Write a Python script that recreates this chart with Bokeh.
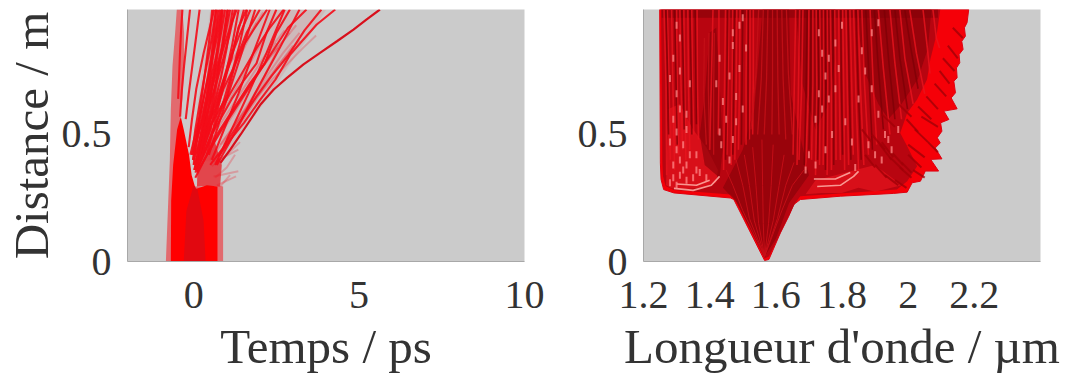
from bokeh.plotting import figure
from bokeh.layouts import row
from bokeh.embed import file_html
from bokeh.resources import INLINE
from bokeh.models import FixedTicker
import math

# ---------- tick labels ----------
t_ticks = [0, 5, 10]
t_labels = ["0", "5", "10"]
lam_ticks = [1.2, 1.4, 1.6, 1.8, 2.0, 2.2]
lam_labels = ["1.2", "1.4", "1.6", "1.8", "2", "2.2"]
z_ticks = [0, 0.5]
z_labels = ["0", "0.5"]

# ---------- left panel: temporal trace ----------
halo_t = [-0.84, -0.78, -0.72, -0.69, -0.64, -0.56, -0.51, -0.34, -0.29, -0.29, -0.34, -0.41, -0.30, -0.20, 0.40, 0.72, 0.72, 0.89, 0.89]
halo_z = [0.0, 0.20, 0.40, 0.60, 0.77, 0.90, 0.992, 0.992, 0.90, 0.77, 0.64, 0.57, 0.42, 0.30, 0.29, 0.295, 0.30, 0.295, 0.0]
core_t = [-0.69, -0.68, -0.62, -0.50, -0.39, -0.30, -0.14, -0.06, 0.06, 0.40, 0.72, 0.72]
core_z = [0.0, 0.24, 0.38, 0.52, 0.57, 0.52, 0.42, 0.34, 0.285, 0.30, 0.295, 0.0]
dark_t = [-0.30, -0.22, 0.0, 0.12, 0.30, 0.36]
dark_z = [0.0, 0.20, 0.30, 0.28, 0.16, 0.0]
fanfill_t = [0.10, 0.80, 0.85, 0.62, 0.50, 0.30, 0.12]
fanfill_z = [0.295, 0.295, 0.38, 0.48, 0.56, 0.60, 0.40]
wash_t = [0.0, 0.85, 2.1, 3.4, 4.0, 0.5, 0.12]
wash_z = [0.40, 0.39, 0.62, 0.87, 0.99, 0.99, 0.62]
bundle_t = [0.15, 0.35, 0.55, 1.15, 0.95, 0.75, 0.50]
bundle_z = [0.46, 0.62, 0.99, 0.99, 0.82, 0.68, 0.50]

outer_t = [0.81, 1.11, 1.42, 1.72, 2.02, 2.42, 2.82, 3.32, 3.83, 4.33, 4.83, 5.23, 5.63]
outer_z = [0.388, 0.441, 0.50, 0.559, 0.618, 0.677, 0.723, 0.776, 0.822, 0.867, 0.913, 0.953, 0.992]

strong_t = [
    [0.76, 1.11, 1.52, 2.02, 2.47, 2.92, 3.27, 3.72, 4.28],
    [0.50, 0.85, 1.20, 1.55, 1.90, 2.35, 2.85, 3.35, 3.86],
    [0.10, 0.45, 0.80, 1.15, 1.50, 1.90, 2.30, 2.85, 3.41],
    [0.05, 0.40, 0.70, 1.00, 1.30, 1.70, 2.15, 2.50, 2.91],
    [0.05, 0.30, 0.55, 0.85, 1.15, 1.50, 1.90, 2.20, 2.50],
    [0.00, 0.25, 0.45, 0.70, 1.00, 1.30, 1.60, 2.00],
    [0.00, 0.20, 0.40, 0.65, 0.90, 1.15, 1.35, 1.60],
    [-0.05, 0.12, 0.30, 0.50, 0.70, 0.90, 1.10, 1.30],
    [-0.10, 0.05, 0.20, 0.38, 0.55, 0.70, 0.85],
    [0.00, 0.06, 0.14, 0.25, 0.35, 0.46, 0.56],
    [-0.05, 0.05, 0.18, 0.30, 0.42, 0.55, 0.68],
    [-0.02, 0.10, 0.24, 0.40, 0.52, 0.66, 0.80],
    [-0.02, 0.13, 0.30, 0.50, 0.65, 0.80, 0.95],
    [0.00, 0.15, 0.34, 0.55, 0.75, 0.92, 1.10],
    [0.05, 0.22, 0.44, 0.70, 0.90, 1.08, 1.25],
    [-0.24, -0.15, -0.04, 0.06, 0.18],
    [-0.41, -0.36, -0.29, -0.20, -0.11],
    [-0.47, -0.44, -0.41, -0.38, -0.34],
    [-0.15, -0.05, 0.08, 0.30, 0.62],
    [0.02, 0.20, 0.42, 0.62, 0.84, 1.05, 1.38, 1.72],
    [0.06, 0.24, 0.50, 0.90, 1.20, 1.50, 1.85, 2.22],
    [0.10, 0.32, 0.55, 0.85, 1.10, 1.50, 1.90, 2.30, 2.72],
    [0.02, 0.18, 0.36, 0.48, 0.60, 0.74],
    [0.04, 0.20, 0.42, 0.58, 0.74, 0.88],
    [0.06, 0.25, 0.48, 0.66, 0.84, 1.02],
    [0.20, 0.40, 0.62, 0.82, 1.00, 1.18],
    [0.25, 0.50, 0.72, 0.96, 1.16, 1.36],
    [0.30, 0.60, 0.90, 1.15, 1.40, 1.62],
    [0.10, 0.24, 0.40, 0.55, 0.68],
    [0.16, 0.34, 0.52, 0.70, 0.86],
    [0.22, 0.44, 0.64, 0.84, 1.04],
    [0.40, 0.64, 0.88, 1.12, 1.52],
    [0.46, 0.78, 1.10, 1.45, 1.86],
    [0.55, 0.95, 1.35, 1.80, 2.30],
    [0.65, 1.15, 1.65, 2.20, 2.75],
    [0.70, 1.30, 1.85, 2.60, 3.20],
]
strong_z = [
    [0.415, 0.48, 0.546, 0.638, 0.716, 0.815, 0.867, 0.933, 0.992],
    [0.38, 0.44, 0.51, 0.58, 0.65, 0.73, 0.81, 0.91, 0.992],
    [0.35, 0.43, 0.51, 0.58, 0.65, 0.73, 0.81, 0.92, 0.992],
    [0.33, 0.42, 0.50, 0.56, 0.62, 0.70, 0.78, 0.90, 0.992],
    [0.35, 0.42, 0.50, 0.57, 0.64, 0.71, 0.78, 0.90, 0.992],
    [0.38, 0.46, 0.52, 0.58, 0.65, 0.80, 0.90, 0.992],
    [0.40, 0.47, 0.53, 0.60, 0.71, 0.80, 0.92, 0.992],
    [0.42, 0.50, 0.57, 0.66, 0.75, 0.84, 0.92, 0.992],
    [0.42, 0.50, 0.58, 0.69, 0.79, 0.88, 0.992],
    [0.38, 0.46, 0.54, 0.65, 0.75, 0.86, 0.992],
    [0.42, 0.52, 0.62, 0.71, 0.79, 0.88, 0.992],
    [0.40, 0.50, 0.60, 0.71, 0.79, 0.88, 0.992],
    [0.40, 0.50, 0.60, 0.71, 0.79, 0.88, 0.992],
    [0.42, 0.50, 0.60, 0.71, 0.79, 0.87, 0.992],
    [0.42, 0.50, 0.60, 0.71, 0.80, 0.89, 0.992],
    [0.56, 0.66, 0.77, 0.87, 0.992],
    [0.57, 0.67, 0.77, 0.88, 0.992],
    [0.64, 0.73, 0.83, 0.91, 0.992],
    [0.45, 0.56, 0.68, 0.82, 0.992],
    [0.36, 0.44, 0.53, 0.61, 0.69, 0.78, 0.89, 0.992],
    [0.36, 0.43, 0.52, 0.68, 0.76, 0.85, 0.92, 0.992],
    [0.36, 0.43, 0.50, 0.60, 0.66, 0.75, 0.84, 0.92, 0.992],
    [0.36, 0.46, 0.58, 0.70, 0.83, 0.992],
    [0.36, 0.46, 0.58, 0.70, 0.83, 0.992],
    [0.36, 0.46, 0.58, 0.70, 0.83, 0.992],
    [0.42, 0.52, 0.62, 0.72, 0.84, 0.992],
    [0.42, 0.53, 0.62, 0.73, 0.85, 0.992],
    [0.42, 0.52, 0.63, 0.74, 0.86, 0.992],
    [0.40, 0.52, 0.66, 0.82, 0.992],
    [0.40, 0.52, 0.66, 0.82, 0.992],
    [0.40, 0.52, 0.66, 0.82, 0.992],
    [0.42, 0.55, 0.68, 0.80, 0.992],
    [0.42, 0.55, 0.68, 0.82, 0.992],
    [0.40, 0.53, 0.66, 0.82, 0.992],
    [0.38, 0.52, 0.66, 0.82, 0.992],
    [0.38, 0.52, 0.66, 0.84, 0.992],
]
pale_t = [
    [0.55, 1.00, 1.40], [0.60, 1.35], [0.70, 1.28], [0.40, 1.00, 1.70, 2.40, 3.10],
    [0.80, 1.60, 2.40, 3.30, 3.70], [0.50, 1.20, 1.90, 2.60, 3.20], [0.30, 1.00, 1.70, 2.40, 2.90],
    [0.40, 1.10, 1.80, 2.20, 2.75], [0.80, 1.30, 1.95, 2.50], [1.00, 1.60, 2.10, 2.55],
    [0.60, 1.10, 1.70, 2.30], [0.30, 0.80, 1.30, 1.90], [0.20, 0.60, 1.10, 1.70, 2.10],
    [0.90, 1.45, 2.05, 2.70, 3.20], [1.30, 1.90, 2.50, 3.00], [0.75, 0.90, 1.10],
    [0.65, 1.00, 1.25], [0.62, 0.90, 1.35],
]
pale_z = [
    [0.375, 0.42, 0.47], [0.335, 0.355], [0.30, 0.335], [0.42, 0.55, 0.70, 0.82, 0.93],
    [0.46, 0.60, 0.72, 0.84, 0.89], [0.40, 0.53, 0.66, 0.78, 0.87], [0.40, 0.56, 0.70, 0.82, 0.90],
    [0.46, 0.60, 0.74, 0.82, 0.91], [0.50, 0.60, 0.74, 0.86], [0.48, 0.60, 0.72, 0.84],
    [0.52, 0.64, 0.78, 0.92], [0.52, 0.64, 0.78, 0.94], [0.50, 0.62, 0.78, 0.90, 0.98],
    [0.46, 0.58, 0.70, 0.82, 0.90], [0.52, 0.64, 0.76, 0.85], [0.285, 0.31, 0.34],
    [0.33, 0.37, 0.42], [0.39, 0.41, 0.44],
]

# ---------- right panel: spectral trace ----------
env_l = [1.566, 1.473, 1.463, 1.292, 1.261, 1.253, 1.251, 1.249, 2.183, 2.178, 2.170, 2.173, 2.162, 2.166, 2.154, 2.156, 2.146, 2.148, 2.138, 2.143, 2.130, 2.148, 2.108, 2.123, 2.098, 2.102, 2.088, 2.097, 2.082, 2.102, 2.068, 2.092, 2.052, 2.037, 2.012, 1.997, 1.956, 1.795, 1.674, 1.654, 1.639, 1.614, 1.579]
env_z = [0.004, 0.244, 0.25, 0.27, 0.283, 0.323, 0.388, 0.992, 0.992, 0.94, 0.92, 0.887, 0.867, 0.835, 0.815, 0.782, 0.762, 0.723, 0.71, 0.664, 0.644, 0.601, 0.592, 0.559, 0.546, 0.513, 0.487, 0.467, 0.447, 0.404, 0.402, 0.356, 0.356, 0.316, 0.31, 0.273, 0.268, 0.257, 0.244, 0.224, 0.178, 0.113, 0.008]
mid_l = [1.566, 1.478, 1.463, 1.292, 1.267, 1.259, 1.257, 1.253, 2.097, 2.087, 2.067, 2.057, 2.027, 1.997, 1.976, 1.997, 2.027, 1.997, 1.966, 1.674, 1.659, 1.634, 1.579]
mid_z = [0.012, 0.244, 0.264, 0.281, 0.297, 0.336, 0.388, 0.992, 0.992, 0.90, 0.795, 0.716, 0.638, 0.585, 0.506, 0.454, 0.375, 0.316, 0.283, 0.257, 0.231, 0.165, 0.02]
bright1_l = [1.268, 1.285, 1.33, 1.38, 1.42, 1.425, 1.39, 1.35, 1.31, 1.275]
bright1_z = [0.30, 0.287, 0.285, 0.29, 0.31, 0.36, 0.45, 0.52, 0.62, 0.60]
bright2_l = [1.69, 1.74, 1.80, 1.85, 1.90, 1.98, 1.90, 1.84, 1.78, 1.72]
bright2_z = [0.265, 0.27, 0.27, 0.29, 0.275, 0.30, 0.38, 0.36, 0.34, 0.32]
dark1_l = [1.566, 1.48, 1.44, 1.50, 1.535, 1.56, 1.64, 1.645, 1.70, 1.64, 1.60]
dark1_z = [0.02, 0.235, 0.29, 0.44, 0.60, 0.992, 0.992, 0.66, 0.34, 0.23, 0.09]
dark2_l = [1.40, 1.385, 1.37, 1.385, 1.43, 1.44, 1.43, 1.42]
dark2_z = [0.90, 0.65, 0.50, 0.38, 0.33, 0.45, 0.70, 0.92]
dark3_l = [1.84, 1.87, 1.91, 1.94, 1.98, 2.03, 2.06, 2.07]
dark3_z = [0.992, 0.74, 0.62, 0.56, 0.62, 0.72, 0.84, 0.992]
dark4_l = [1.66, 1.68, 1.72, 1.76, 1.78, 1.78]
dark4_z = [0.992, 0.70, 0.52, 0.62, 0.80, 0.992]
top_l = [1.255, 2.09, 2.09, 1.255]
top_z = [0.992, 0.992, 0.96, 0.96]

fan_l = [
    [1.566, 1.50, 1.47, 1.45], [1.566, 1.52, 1.50, 1.48], [1.566, 1.535, 1.52, 1.505], [1.566, 1.548, 1.54, 1.53],
    [1.566, 1.562, 1.56, 1.558], [1.566, 1.578, 1.586, 1.592], [1.566, 1.592, 1.61, 1.625], [1.566, 1.605, 1.63, 1.655],
    [1.566, 1.618, 1.65, 1.685],
]
fan_z = [
    [0.02, 0.20, 0.30, 0.36], [0.02, 0.17, 0.30, 0.40], [0.02, 0.16, 0.30, 0.42], [0.02, 0.15, 0.30, 0.45],
    [0.02, 0.15, 0.30, 0.48], [0.02, 0.15, 0.30, 0.46], [0.02, 0.16, 0.30, 0.42], [0.02, 0.17, 0.30, 0.39],
    [0.02, 0.20, 0.30, 0.36],
]
centre_l = [
    [1.548, 1.540, 1.525], [1.562, 1.556, 1.545], [1.576, 1.572, 1.565], [1.590, 1.590, 1.588], [1.604, 1.606, 1.610],
    [1.618, 1.622, 1.630], [1.632, 1.638, 1.650], [1.384, 1.382, 1.390], [1.398, 1.396, 1.400], [1.414, 1.412, 1.412],
]
centre_z = [
    [0.99, 0.74, 0.52], [0.99, 0.72, 0.50], [0.99, 0.72, 0.50], [0.99, 0.72, 0.50], [0.99, 0.72, 0.50],
    [0.99, 0.72, 0.48], [0.99, 0.74, 0.50], [0.88, 0.66, 0.46], [0.90, 0.68, 0.44], [0.90, 0.66, 0.42],
]
bright_l = [
    [1.262, 1.268, 1.270], [1.272, 1.277, 1.281], [1.285, 1.289, 1.294], [1.300, 1.302, 1.306], [1.310, 1.313, 1.318],
    [1.322, 1.325, 1.328], [1.334, 1.336, 1.340], [1.346, 1.348, 1.352], [1.362, 1.363, 1.366], [1.410, 1.405, 1.400],
    [1.428, 1.428, 1.426], [1.448, 1.445, 1.442], [1.458, 1.456, 1.452], [1.470, 1.468, 1.465], [1.482, 1.480, 1.476],
    [1.492, 1.490, 1.487], [1.512, 1.510, 1.510], [1.522, 1.522, 1.520], [1.532, 1.532, 1.530], [1.660, 1.656, 1.652],
    [1.672, 1.668, 1.664], [1.682, 1.678, 1.670], [1.700, 1.698, 1.690], [1.712, 1.712, 1.708], [1.722, 1.724, 1.720],
    [1.733, 1.735, 1.732], [1.744, 1.745, 1.743], [1.755, 1.757, 1.755], [1.765, 1.768, 1.768], [1.778, 1.781, 1.782],
    [1.790, 1.792, 1.795], [1.802, 1.805, 1.808], [1.812, 1.816, 1.820], [1.824, 1.829, 1.834], [1.835, 1.842, 1.850],
    [1.848, 1.856, 1.866], [1.860, 1.868, 1.880], [1.885, 1.895, 1.905], [1.910, 1.925, 1.945], [1.945, 1.960, 1.980],
    [1.975, 1.990, 2.015], [2.005, 2.025, 2.050], [2.045, 2.058, 2.066], [2.075, 2.085, 2.095],
]
bright_z = [
    [0.99, 0.70, 0.34], [0.99, 0.72, 0.40], [0.99, 0.68, 0.36], [0.99, 0.70, 0.42], [0.99, 0.72, 0.44],
    [0.99, 0.68, 0.40], [0.99, 0.70, 0.44], [0.99, 0.74, 0.50], [0.99, 0.70, 0.48], [0.99, 0.70, 0.44],
    [0.99, 0.72, 0.50], [0.99, 0.70, 0.36], [0.99, 0.74, 0.42], [0.99, 0.72, 0.38], [0.99, 0.68, 0.40],
    [0.99, 0.68, 0.44], [0.99, 0.72, 0.46], [0.99, 0.70, 0.48], [0.99, 0.72, 0.50], [0.99, 0.70, 0.42],
    [0.99, 0.66, 0.38], [0.99, 0.68, 0.40], [0.99, 0.66, 0.36], [0.99, 0.70, 0.40], [0.99, 0.68, 0.34],
    [0.99, 0.72, 0.38], [0.99, 0.66, 0.38], [0.99, 0.70, 0.34], [0.99, 0.70, 0.36], [0.99, 0.66, 0.40],
    [0.99, 0.68, 0.40], [0.99, 0.70, 0.36], [0.99, 0.68, 0.38], [0.99, 0.72, 0.42], [0.99, 0.66, 0.36],
    [0.99, 0.68, 0.38], [0.99, 0.70, 0.42], [0.99, 0.68, 0.46], [0.99, 0.76, 0.50], [0.99, 0.78, 0.56],
    [0.99, 0.80, 0.62], [0.99, 0.82, 0.66], [0.99, 0.84, 0.74], [0.99, 0.88, 0.84],
]
deep_l = [
    [1.268, 1.272, 1.276], [1.294, 1.298, 1.302], [1.316, 1.320, 1.323], [1.340, 1.344, 1.346], [1.356, 1.358, 1.360],
    [1.455, 1.452, 1.448], [1.475, 1.472, 1.470], [1.500, 1.498, 1.496], [1.517, 1.516, 1.516], [1.695, 1.692, 1.686],
    [1.706, 1.705, 1.700], [1.728, 1.730, 1.726], [1.750, 1.751, 1.750], [1.772, 1.774, 1.775], [1.796, 1.798, 1.802],
    [1.818, 1.822, 1.827], [1.842, 1.849, 1.858], [1.872, 1.882, 1.892], [1.898, 1.910, 1.925], [1.928, 1.942, 1.960],
    [1.960, 1.975, 1.998], [1.990, 2.008, 2.030],
]
deep_z = [
    [0.99, 0.78, 0.50], [0.99, 0.74, 0.46], [0.99, 0.78, 0.52], [0.99, 0.74, 0.50], [0.99, 0.76, 0.54],
    [0.99, 0.70, 0.40], [0.99, 0.66, 0.42], [0.99, 0.72, 0.46], [0.99, 0.70, 0.48], [0.99, 0.70, 0.38],
    [0.99, 0.72, 0.44], [0.99, 0.70, 0.40], [0.99, 0.68, 0.36], [0.99, 0.68, 0.38], [0.99, 0.72, 0.42],
    [0.99, 0.70, 0.40], [0.99, 0.68, 0.40], [0.99, 0.72, 0.44], [0.99, 0.76, 0.52], [0.99, 0.78, 0.56],
    [0.99, 0.80, 0.60], [0.99, 0.84, 0.68],
]
feather_l = [
    [1.86, 1.89], [1.89, 1.93], [1.92, 1.955], [1.95, 1.985], [1.98, 2.01], [1.87, 1.90], [1.90, 1.935], [1.93, 1.97],
    [1.96, 1.995], [1.915, 1.95], [1.945, 1.985], [1.975, 2.01], [2.00, 2.04], [2.00, 2.05], [2.02, 2.06], [2.04, 2.09],
    [1.995, 2.03], [2.03, 2.07], [2.055, 2.09], [2.08, 2.115], [2.095, 2.125], [2.105, 2.14], [2.12, 2.15], [2.135, 2.165],
    [1.97, 2.01], [1.92, 1.96], [2.015, 2.05], [2.06, 2.09],
]
feather_z = [
    [0.52, 0.47], [0.50, 0.44], [0.47, 0.41], [0.43, 0.38], [0.39, 0.35], [0.42, 0.37], [0.38, 0.33], [0.34, 0.30],
    [0.32, 0.29], [0.46, 0.40], [0.41, 0.36], [0.37, 0.33], [0.42, 0.37], [0.46, 0.41], [0.52, 0.47], [0.57, 0.53],
    [0.56, 0.51], [0.61, 0.56], [0.65, 0.60], [0.70, 0.65], [0.75, 0.70], [0.80, 0.75], [0.85, 0.80], [0.92, 0.88],
    [0.62, 0.57], [0.58, 0.53], [0.36, 0.33], [0.47, 0.43],
]
glow_l = [[1.292, 1.350, 1.405, 1.430], [1.300, 1.360, 1.400], [1.725, 1.795, 1.835, 1.850], [1.715, 1.780, 1.825]]
glow_z = [[0.288, 0.28, 0.30, 0.335], [0.305, 0.30, 0.32], [0.295, 0.30, 0.335, 0.355], [0.325, 0.325, 0.35]]

speck_l = [
    1.28, 1.29, 1.30, 1.31, 1.32, 1.33, 1.35, 1.37, 1.29, 1.31, 1.33, 1.36, 1.39, 1.30, 1.32, 1.34, 1.28, 1.30, 1.33, 1.29, 1.31,
    1.30, 1.28, 1.31, 1.33, 1.36, 1.29, 1.34, 1.31, 1.30,
    1.49, 1.50, 1.47, 1.43, 1.46, 1.48, 1.50, 1.43, 1.435, 1.45, 1.42, 1.47, 1.44, 1.49, 1.47, 1.46, 1.51, 1.48,
    1.73, 1.74, 1.75, 1.76, 1.72, 1.78, 1.79, 1.75, 1.77, 1.73, 1.80, 1.76, 1.74, 1.78, 1.81,
    1.87, 1.89, 1.91, 1.93, 1.88, 1.90, 1.92, 1.94, 1.95, 1.97, 1.89, 1.86, 1.91, 1.85, 1.83, 1.84,
    1.70, 1.69, 1.72,
]
speck_z = [
    0.31, 0.33, 0.30, 0.34, 0.36, 0.32, 0.33, 0.35, 0.38, 0.40, 0.38, 0.36, 0.33, 0.44, 0.46, 0.42, 0.47, 0.51, 0.52, 0.56, 0.60,
    0.66, 0.72, 0.75, 0.58, 0.42, 0.80, 0.70, 0.88, 0.93,
    0.93, 0.96, 0.85, 0.80, 0.73, 0.65, 0.60, 0.51, 0.46, 0.56, 0.70, 0.90, 0.63, 0.76, 0.48, 0.40, 0.84, 0.55,
    0.90, 0.82, 0.73, 0.64, 0.56, 0.86, 0.76, 0.44, 0.50, 0.66, 0.93, 0.80, 0.60, 0.68, 0.55,
    0.75, 0.68, 0.58, 0.50, 0.46, 0.42, 0.40, 0.48, 0.44, 0.52, 0.90, 0.83, 0.94, 0.64, 0.47, 0.37,
    0.42, 0.36, 0.38,
]

INK = "#333333"
FONT = "Liberation Serif"
BG = "#cbcbcb"


def panel(xr, xticks, xlabels, xtitle, left, right, ytitle):
    p = figure(
        width=left + 397 + right, height=358, frame_width=397, frame_height=252,
        x_range=xr, y_range=(0, 0.992), min_border_left=left, min_border_right=right,
        min_border_top=9, min_border_bottom=97, toolbar_location=None,
        output_backend="svg", background_fill_color=BG, outline_line_color=None,
    )
    p.grid.visible = False
    p.xaxis.ticker = FixedTicker(ticks=xticks)
    p.yaxis.ticker = FixedTicker(ticks=z_ticks)
    p.xaxis.major_label_overrides = dict(zip(xticks, xlabels))
    p.yaxis.major_label_overrides = dict(zip(z_ticks, z_labels))
    for ax in (p.xaxis[0], p.yaxis[0]):
        ax.axis_line_color = "#a8a8a8"
        ax.major_tick_line_color = None
        ax.minor_tick_line_color = None
        ax.major_label_text_font = FONT
        ax.major_label_text_font_size = "40px"
        ax.major_label_text_color = INK
        ax.axis_label_text_font = FONT
        ax.axis_label_text_font_size = "49px"
        ax.axis_label_text_font_style = "normal"
        ax.axis_label_text_color = INK
    p.xaxis.major_label_standoff = 14
    p.yaxis.major_label_standoff = 10
    p.xaxis.axis_label = xtitle
    p.xaxis.axis_label_standoff = 8
    if ytitle:
        p.yaxis.axis_label = ytitle
        p.yaxis.axis_label_standoff = 0
    return p


# left panel
a = panel((-2, 10), t_ticks, t_labels, "Temps / ps", 119, 36, "Distance / m")
a.patch(wash_t, wash_z, fill_color="#e8484f", fill_alpha=0.13, line_color=None)
a.multi_line(pale_t, pale_z, line_color="#f02030", line_alpha=0.28, line_width=2)
a.patch(bundle_t, bundle_z, fill_color="#f01018", fill_alpha=0.4, line_color=None)
a.patch(halo_t, halo_z, fill_color="#e26a6e", line_color=None)
a.patch(fanfill_t, fanfill_z, fill_color="#ea1a22", fill_alpha=0.75, line_color=None)
a.patch(core_t, core_z, fill_color="#ff0000", line_color=None)
a.patch(dark_t, dark_z, fill_color="#d90a14", fill_alpha=0.8, line_color=None)
a.multi_line(strong_t, strong_z, line_color="#f40c18", line_width=2.1, line_alpha=0.9)
a.line(outer_t, outer_z, line_color="#d8101c", line_width=2.2)

# right panel
b = panel((1.2, 2.4), lam_ticks, lam_labels, "Longueur d'onde / µm", 83, 24, None)
b.patch(env_l, env_z, fill_color="#f50008", line_color="#e00010", line_width=1)
b.patch(mid_l, mid_z, fill_color="#b80510", line_color=None)
b.patch(bright1_l, bright1_z, fill_color="#e0121c", fill_alpha=0.8, line_color=None)
b.patch(bright2_l, bright2_z, fill_color="#e0121c", fill_alpha=0.8, line_color=None)
for xs, ys in ((dark4_l, dark4_z), (dark3_l, dark3_z), (dark2_l, dark2_z), (dark1_l, dark1_z), (top_l, top_z)):
    b.patch(xs, ys, fill_color="#840208", fill_alpha=0.6, line_color=None)
b.multi_line(bright_l, bright_z, line_color="#e8141e", line_width=1.6, line_alpha=0.8)
b.multi_line(centre_l, centre_z, line_color="#c41018", line_width=1.3, line_alpha=0.85)
b.multi_line(deep_l, deep_z, line_color="#7a0006", line_width=1.6, line_alpha=0.7)
b.multi_line(feather_l, feather_z, line_color="#a00008", line_width=2, line_alpha=0.8)
b.multi_line(fan_l, fan_z, line_color="#c81018", line_width=1, line_alpha=0.9)
b.multi_line(glow_l, glow_z, line_color="#ffb0a8", line_width=1.6, line_alpha=0.85)
b.scatter(speck_l, speck_z, marker="dash", angle=math.pi / 2, size=7, line_color="#ff8a88", line_width=2, line_alpha=0.75)

open("out.html", "w").write(file_html(row(a, b, spacing=0), INLINE))
